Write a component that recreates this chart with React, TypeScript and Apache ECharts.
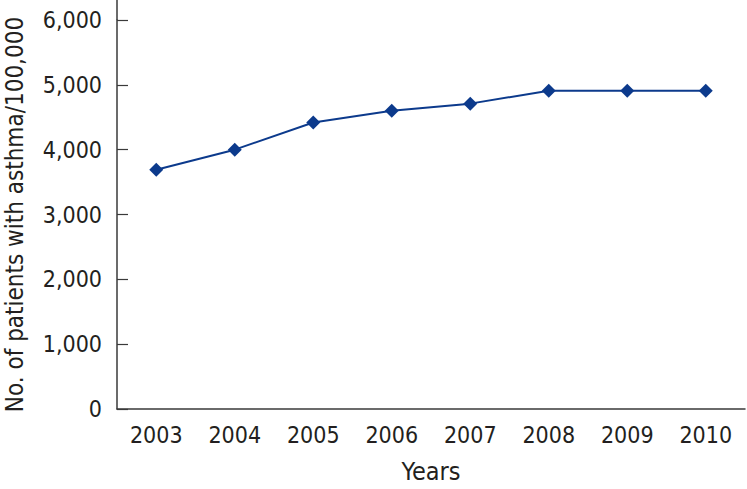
import React, { useEffect, useRef } from "react";
import * as echarts from "echarts";

const years = ["2003", "2004", "2005", "2006", "2007", "2008", "2009", "2010"];
const patients = [3690, 4000, 4420, 4600, 4710, 4910, 4910, 4910];
const yTicks = { min: 0, max: 6000, interval: 1000 };

const FONT = "'Liberation Sans Narrow', 'DejaVu Sans Condensed', 'Roboto Condensed', sans-serif";
const TEXT = "#231f20";
const AXIS = "#3a3a3a";
const LINE = "#0c3a8c";

export default function App() {
  const ref = useRef<HTMLDivElement>(null);
  useEffect(() => {
    if (!ref.current) return;
    const chart = echarts.init(ref.current, null, { renderer: "svg" });
    chart.setOption({
      animation: false,
      backgroundColor: "#ffffff",
      grid: { left: 117, right: 2, top: 20, bottom: 80, outerBoundsMode: "none", containLabel: false },
      xAxis: {
        type: "category",
        data: years,
        boundaryGap: true,
        name: "Years",
        nameLocation: "middle",
        nameGap: 50,
        nameTextStyle: { fontFamily: FONT, fontSize: 25, color: TEXT },
        axisLine: { lineStyle: { color: AXIS, width: 1.5 } },
        axisTick: { inside: true, length: 10, alignWithLabel: false, lineStyle: { color: AXIS, width: 1.2 } },
        axisLabel: { fontFamily: FONT, fontSize: 23, color: TEXT, margin: 14 },
        splitLine: { show: false },
      },
      yAxis: {
        type: "value",
        min: yTicks.min,
        max: yTicks.max,
        interval: yTicks.interval,
        name: "No. of patients with asthma/100,000",
        nameLocation: "middle",
        nameGap: 90,
        nameTextStyle: { fontFamily: FONT, fontSize: 24, color: TEXT },
        axisLine: { show: true, lineStyle: { color: AXIS, width: 1.5 } },
        axisTick: { show: true, inside: true, length: 11, lineStyle: { color: AXIS, width: 1.2 } },
        axisLabel: {
          fontFamily: FONT,
          fontSize: 23,
          color: TEXT,
          margin: 15,
          formatter: (v: number) => v.toLocaleString("en-US"),
        },
        splitLine: { show: false },
      },
      graphic: [
        {
          type: "line",
          shape: { x1: 117, y1: 0, x2: 117, y2: 20 },
          style: { stroke: AXIS, lineWidth: 1.5 },
        },
      ],
      series: [
        {
          type: "line",
          data: patients,
          symbol: "diamond",
          symbolSize: [14, 14],
          lineStyle: { color: LINE, width: 2 },
          itemStyle: { color: LINE },
        },
      ],
    });
    return () => chart.dispose();
  }, []);
  return <div ref={ref} style={{ width: 747, height: 489, position: "absolute", left: 0, top: 0 }} />;
}
